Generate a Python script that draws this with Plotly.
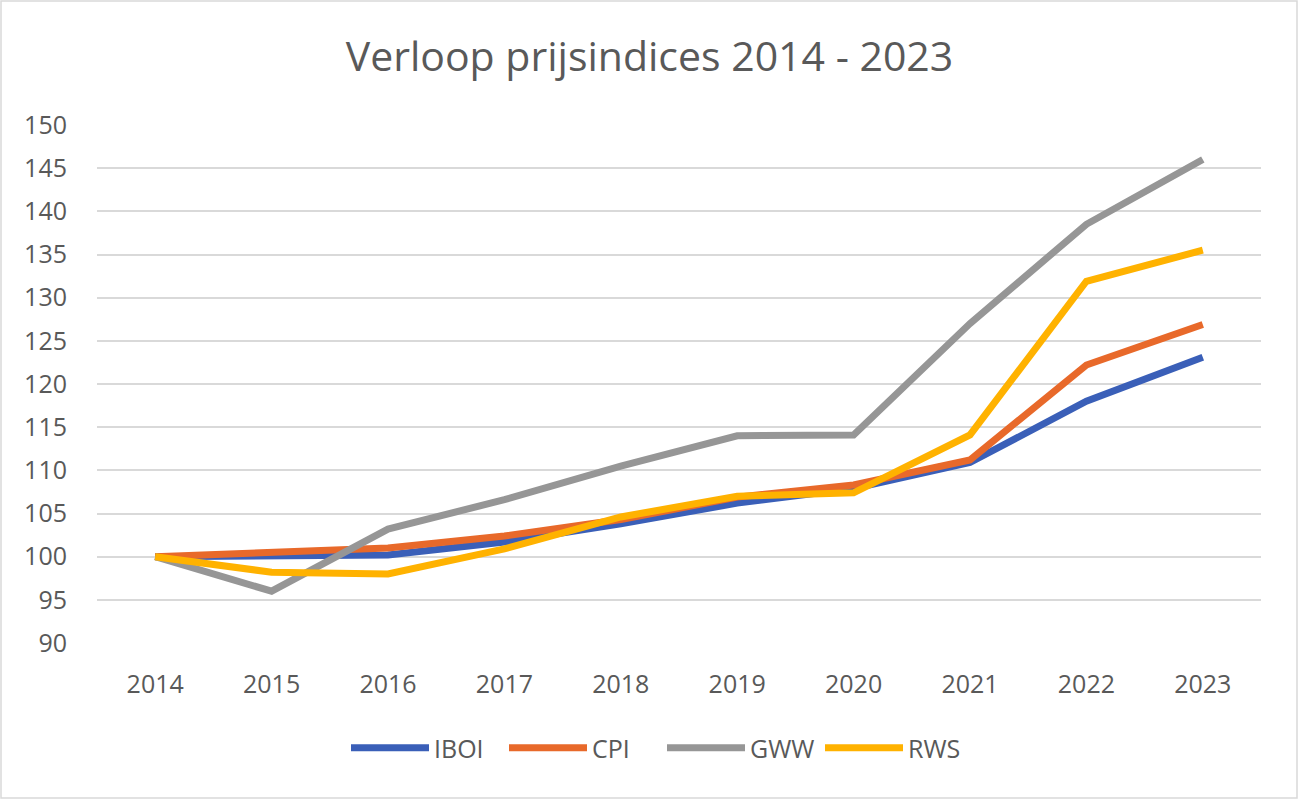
import plotly.graph_objects as go

years = ["2014", "2015", "2016", "2017", "2018", "2019", "2020", "2021", "2022", "2023"]
iboi = [100.0, 100.0, 100.2, 101.7, 103.8, 106.2, 107.9, 110.9, 118.0, 123.1]
cpi = [100.0, 100.6, 101.0, 102.4, 104.3, 106.9, 108.3, 111.2, 122.2, 126.9]
gww = [100.0, 96.0, 103.2, 106.6, 110.5, 114.0, 114.1, 127.0, 138.5, 146.0]
rws = [100.0, 98.2, 98.0, 100.9, 104.6, 107.0, 107.4, 114.1, 131.9, 135.5]

series = [("IBOI", iboi, "#3A5FB8"), ("CPI", cpi, "#E8692A"),
          ("GWW", gww, "#969696"), ("RWS", rws, "#FFB200")]

fig = go.Figure()
for name, vals, col in series:
    fig.add_trace(go.Scatter(x=years, y=vals, name=name, mode="lines",
                             line=dict(color=col, width=7)))

W, H = 1299, 800
ml, mr, mt, mb = 97, 38, 125, 157
pw, ph = W - ml - mr, H - mt - mb

fig.update_layout(
    width=W, height=H,
    margin=dict(l=ml, r=mr, t=mt, b=mb),
    paper_bgcolor="white", plot_bgcolor="white",
    font=dict(family="Open Sans", color="#595959", size=25),
    title=dict(text="Verloop prijsindices 2014 - 2023", x=0.5, xanchor="center",
               y=1 - 57 / H, yref="container", yanchor="middle",
               font=dict(size=41, color="#595959", family="Open Sans")),
    xaxis=dict(type="category", range=[-0.5, 9.5], showgrid=False,
               showline=False, ticks="", tickfont=dict(size=25, color="#595959"),
               ticklabelstandoff=24),
    yaxis=dict(range=[90, 150], dtick=5, showgrid=True, gridcolor="#D9D9D9",
               gridwidth=2, zeroline=False, showline=False, ticks="",
               tickfont=dict(size=25, color="#595959"), ticklabelstandoff=29),
    legend=dict(orientation="h", x=(662 - ml) / pw, xanchor="center",
                y=-(748 - (mt + ph)) / ph, yanchor="middle",
                font=dict(size=25, color="#595959"), itemwidth=78,
                entrywidth=65, entrywidthmode="pixels",
                traceorder="normal"),
    showlegend=True,
)

fig.add_shape(type="rect", xref="paper", yref="paper",
              x0=(1 - ml) / pw, x1=(W - 2 - ml) / pw,
              y0=-(H - 2 - mt - ph) / ph, y1=1 + (mt - 1) / ph,
              line=dict(color="#D9D9D9", width=1.5), fillcolor="rgba(0,0,0,0)",
              layer="below")

fig.write_html("out.html")
